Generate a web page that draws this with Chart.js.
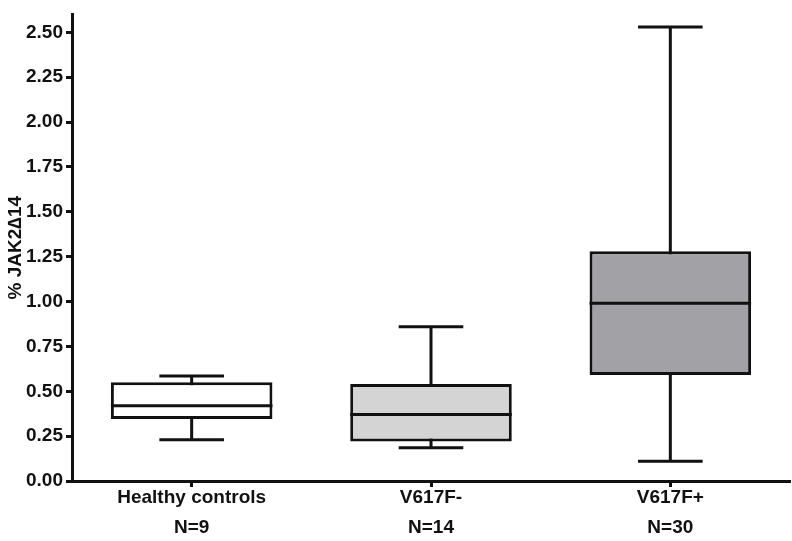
<!DOCTYPE html>
<html>
<head>
<meta charset="utf-8">
<script src="https://cdn.jsdelivr.net/npm/chart.js@4"></script>
<style>
html, body { margin: 0; padding: 0; background: #fff; }
#wrap { width: 792px; height: 541px; }
</style>
</head>
<body>
<div id="wrap"><canvas id="boxChart"></canvas></div>
<script>
// --- data ---
const groups = ['Healthy controls', 'V617F-', 'V617F+'];
const counts = ['N=9', 'N=14', 'N=30'];
const whiskerLow = [0.23, 0.185, 0.11];
const quartile1 = [0.345, 0.22, 0.59];
const medians = [0.42, 0.37, 0.99];
const quartile3 = [0.55, 0.54, 1.28];
const whiskerHigh = [0.585, 0.86, 2.53];
const boxFills = ['#ffffff', '#d4d4d4', '#a2a1a5'];
const yTicks = [0, 0.25, 0.5, 0.75, 1, 1.25, 1.5, 1.75, 2, 2.25, 2.5];

const ink = '#111111';
const fontFamily = "'Liberation Sans', Arial, sans-serif";

// whiskers go behind the boxes, medians on top
const whiskerPlugin = {
    id: 'whiskers',
    beforeDatasetsDraw(chart) {
        const ctx = chart.ctx;
        const y = chart.scales.y;
        const bars = chart.getDatasetMeta(0).data;
        ctx.save();
        ctx.strokeStyle = ink;
        ctx.lineWidth = 3;
        bars.forEach(function(bar, i) {
            const cap = bar.width * 0.4 / 2;
            const top = y.getPixelForValue(whiskerHigh[i]);
            const bottom = y.getPixelForValue(whiskerLow[i]);
            ctx.beginPath();
            ctx.moveTo(bar.x, top);
            ctx.lineTo(bar.x, bottom);
            ctx.moveTo(bar.x - cap, top);
            ctx.lineTo(bar.x + cap, top);
            ctx.moveTo(bar.x - cap, bottom);
            ctx.lineTo(bar.x + cap, bottom);
            ctx.stroke();
        });
        ctx.restore();
    },
    afterDatasetsDraw(chart) {
        const ctx = chart.ctx;
        const y = chart.scales.y;
        const bars = chart.getDatasetMeta(0).data;
        ctx.save();
        ctx.strokeStyle = ink;
        ctx.lineWidth = 3;
        bars.forEach(function(bar, i) {
            const py = y.getPixelForValue(medians[i]);
            ctx.beginPath();
            ctx.moveTo(bar.x - bar.width / 2, py);
            ctx.lineTo(bar.x + bar.width / 2, py);
            ctx.stroke();
        });
        ctx.restore();
    }
};

const ctx = document.getElementById('boxChart').getContext('2d');
new Chart(ctx, {
    type: 'bar',
    data: {
        labels: groups.map(function(g, i) { return [g, counts[i]]; }),
        datasets: [{
            data: quartile1.map(function(q, i) { return [q, quartile3[i]]; }),
            backgroundColor: boxFills,
            borderColor: ink,
            borderWidth: 3,
            borderSkipped: false,
            categoryPercentage: 1,
            barPercentage: 0.675
        }]
    },
    options: {
        responsive: true,
        maintainAspectRatio: false,
        animation: false,
        layout: { padding: { top: 3, right: 2 } },
        plugins: {
            legend: { display: false },
            tooltip: { enabled: false }
        },
        scales: {
            x: {
                grid: {
                    offset: false,
                    drawOnChartArea: false,
                    tickLength: 6,
                    tickWidth: 3,
                    tickColor: ink
                },
                border: { display: true, color: ink, width: 3 },
                ticks: {
                    color: ink,
                    padding: -4,
                    font: { family: fontFamily, size: 19, weight: 'bold', lineHeight: 1.58 }
                },
                afterFit: function(scale) { scale.height = 60; }
            },
            y: {
                min: 0,
                max: 2.6,
                afterBuildTicks: function(scale) {
                    scale.ticks = yTicks.map(function(v) { return { value: v }; });
                },
                grid: {
                    drawOnChartArea: false,
                    tickLength: 6,
                    tickWidth: 3,
                    tickColor: ink
                },
                border: { display: true, color: ink, width: 3 },
                ticks: {
                    color: ink,
                    padding: 3,
                    font: { family: fontFamily, size: 19, weight: 'bold' },
                    callback: function(v) { return Number(v).toFixed(2); }
                },
                title: {
                    display: true,
                    text: '% JAK2\u220614',
                    color: ink,
                    padding: { top: 4, bottom: 0 },
                    font: { family: fontFamily, size: 19, weight: 'bold' }
                },
                afterFit: function(scale) { scale.width = 72; }
            }
        }
    },
    plugins: [whiskerPlugin]
});
</script>
</body>
</html>
